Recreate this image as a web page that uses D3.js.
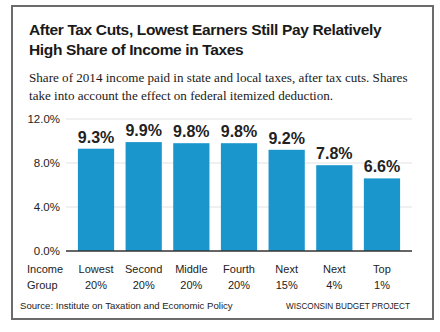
<!DOCTYPE html>
<html>
<head>
<meta charset="utf-8">
<script src="https://cdn.jsdelivr.net/npm/d3@7"></script>
<style>
  html, body { margin: 0; padding: 0; background: #fff; }
  svg { display: block; }
</style>
</head>
<body>
<div id="chart"></div>
<script>
const groupsLine1 = ["Lowest", "Second", "Middle", "Fourth", "Next", "Next", "Top"];
const groupsLine2 = ["20%", "20%", "20%", "20%", "15%", "4%", "1%"];
const shares = [9.3, 9.9, 9.8, 9.8, 9.2, 7.8, 6.6];
const yTicks = [0, 4, 8, 12];
const titleLines = ["After Tax Cuts, Lowest Earners Still Pay Relatively", "High Share of Income in Taxes"];
const subtitleLines = ["Share of 2014 income paid in state and local taxes, after tax cuts. Shares", "take into account the effect on federal itemized deduction."];
const axisTitle = ["Income", "Group"];
const sourceText = "Source: Institute on Taxation and Economic Policy";
const brandText = "WISCONSIN BUDGET PROJECT";

const W = 440, H = 332;
const sans = "'Liberation Sans', Arial, sans-serif";
const serif = "'Liberation Serif', 'Times New Roman', serif";

const svg = d3.select("#chart").append("svg").attr("width", W).attr("height", H);

svg.append("rect").attr("x", 12).attr("y", 6).attr("width", 421).attr("height", 313)
  .attr("fill", "#fff").attr("stroke", "#6b6b6b").attr("stroke-width", 2);

svg.append("g").selectAll("text").data(titleLines).join("text")
  .attr("x", 29).attr("y", (d, i) => 35 + i * 20)
  .attr("font-family", sans).attr("font-weight", "bold").attr("font-size", 15.5)
  .attr("letter-spacing", -0.35)
  .attr("fill", "#1a1a1a").text(d => d);

svg.append("g").selectAll("text").data(subtitleLines).join("text")
  .attr("x", 29).attr("y", (d, i) => 82 + i * 18)
  .attr("font-family", serif).attr("font-size", 13.1)
  .attr("fill", "#1a1a1a").text(d => d);

const x = d3.scaleBand().domain(d3.range(shares.length)).range([66, 412])
  .paddingInner(0.24).paddingOuter(0.25);
const y = d3.scaleLinear().domain([0, 12]).range([251, 119]);

// gridlines
svg.append("g").selectAll("line").data(yTicks.filter(t => t > 0)).join("line")
  .attr("x1", 66).attr("x2", 412).attr("y1", d => y(d)).attr("y2", d => y(d))
  .attr("stroke", "#e2e2e2").attr("stroke-width", 1);

// y axis labels
const yAxis = d3.axisLeft(y).tickValues(yTicks).tickSize(0).tickPadding(6)
  .tickFormat(d => d.toFixed(1) + "%");
const ya = svg.append("g").attr("transform", "translate(66,0)").call(yAxis);
ya.select(".domain").remove();
ya.selectAll("text").attr("font-family", sans).attr("font-size", 11.5).attr("fill", "#222");

// bars
svg.append("g").selectAll("rect").data(shares).join("rect")
  .attr("x", (d, i) => x(i)).attr("width", x.bandwidth())
  .attr("y", d => y(d)).attr("height", d => y(0) - y(d))
  .attr("fill", "#1b96cd");

// value labels
svg.append("g").selectAll("text").data(shares).join("text")
  .attr("x", (d, i) => x(i) + x.bandwidth() / 2).attr("y", d => y(d) - 6)
  .attr("text-anchor", "middle")
  .attr("font-family", sans).attr("font-weight", "bold").attr("font-size", 16)
  .attr("fill", "#222").text(d => d.toFixed(1) + "%");

// baseline
svg.append("line").attr("x1", 66).attr("x2", 412).attr("y1", y(0)).attr("y2", y(0))
  .attr("stroke", "#333").attr("stroke-width", 1.5);

// x labels
const xl = svg.append("g").selectAll("text").data(shares).join("text")
  .attr("text-anchor", "middle")
  .attr("font-family", sans).attr("font-size", 11).attr("fill", "#222");
xl.append("tspan").attr("x", (d, i) => x(i) + x.bandwidth() / 2).attr("y", 273).text((d, i) => groupsLine1[i]);
xl.append("tspan").attr("x", (d, i) => x(i) + x.bandwidth() / 2).attr("y", 289).text((d, i) => groupsLine2[i]);

svg.append("g").selectAll("text").data(axisTitle).join("text")
  .attr("x", 27).attr("y", (d, i) => 273 + i * 16)
  .attr("font-family", sans).attr("font-size", 11).attr("fill", "#222").text(d => d);

svg.append("text").attr("x", 20).attr("y", 309)
  .attr("font-family", sans).attr("font-size", 9.6).attr("fill", "#222").text(sourceText);
svg.append("text").attr("x", 410).attr("y", 309).attr("text-anchor", "end")
  .attr("font-family", sans).attr("font-size", 8.2).attr("fill", "#222").text(brandText);
</script>
</body>
</html>
